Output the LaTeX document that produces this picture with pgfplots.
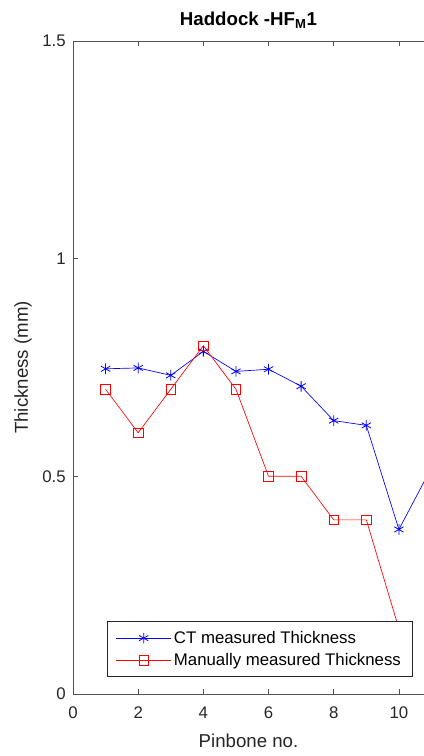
\documentclass[border=0pt]{standalone}
\usepackage{pgfplots}
\pgfplotsset{compat=1.18}
\usepackage{fontspec}
\setmainfont{Liberation Sans}
\definecolor{axgray}{gray}{0.15}
\begin{document}
\begin{tikzpicture}
\begin{axis}[
  scale only axis, width=263.25pt, height=489.75pt,
  xmin=0, xmax=10.77, ymin=0, ymax=1.5,
  axis y line*=left,
  axis line style={axgray!80, line width=0.5pt},
  every tick/.style={axgray!80, line width=0.5pt},
  tick align=inside, major tick length=3.75pt,
  xtick={0,2,4,6,8,10}, ytick={0,0.5,1,1.5},
  yticklabels={0,0.5,1,1.5},
  /pgf/number format/assume math mode=true,
  tick label style={font=\fontsize{12.6}{15}\selectfont, text=axgray},
  xticklabel style={yshift=-6pt},
  yticklabel style={xshift=-2pt},
  xlabel={Pinbone no.}, ylabel={Thickness (mm)},
  label style={font=\fontsize{14}{16}\selectfont, text=axgray},
  xlabel style={yshift=-5pt},
  ylabel style={yshift=1pt},
  title={\textbf{Haddock -HF\textsubscript{M}1}},
  title style={font=\fontsize{14}{16}\selectfont, yshift=0pt},
  legend style={at={(rel axis cs:0.0969,0.026)}, anchor=south west,
    font=\fontsize{12.6}{15}\selectfont, draw=axgray, fill=white, line width=0.5pt,
    inner xsep=6.5pt, inner ysep=5pt, row sep=2pt},
  legend cell align=left,
  legend image code/.code={\draw[mark repeat=2,mark phase=2] plot coordinates {(0cm,0cm) (0.72cm,0cm) (1.44cm,0cm)};},
]
\addplot[blue, line width=0.5pt, mark=asterisk, mark size=4pt, mark options={blue, line width=0.6pt}] coordinates {
(1,0.747) (2,0.749) (3,0.732) (4,0.787) (5,0.741) (6,0.746) (7,0.707) (8,0.628) (9,0.617) (10,0.378) (11,0.52)};
\addlegendentry{CT measured Thickness}
\addplot[red, line width=0.5pt, mark=square, mark size=3.6pt, mark options={red, line width=0.5pt}] coordinates {
(1,0.7) (2,0.6) (3,0.7) (4,0.8) (5,0.7) (6,0.5) (7,0.5) (8,0.4) (9,0.4) (10,0.15)};
\addlegendentry{Manually measured Thickness}
\coordinate (bl) at (rel axis cs:0,0);
\coordinate (tr) at (rel axis cs:1,1);
\end{axis}
\pgfresetboundingbox
\path ([shift={(-54.75pt,-46.5pt)}]bl) rectangle ([shift={(0pt,30.75pt)}]tr);
\end{tikzpicture}
\end{document}
